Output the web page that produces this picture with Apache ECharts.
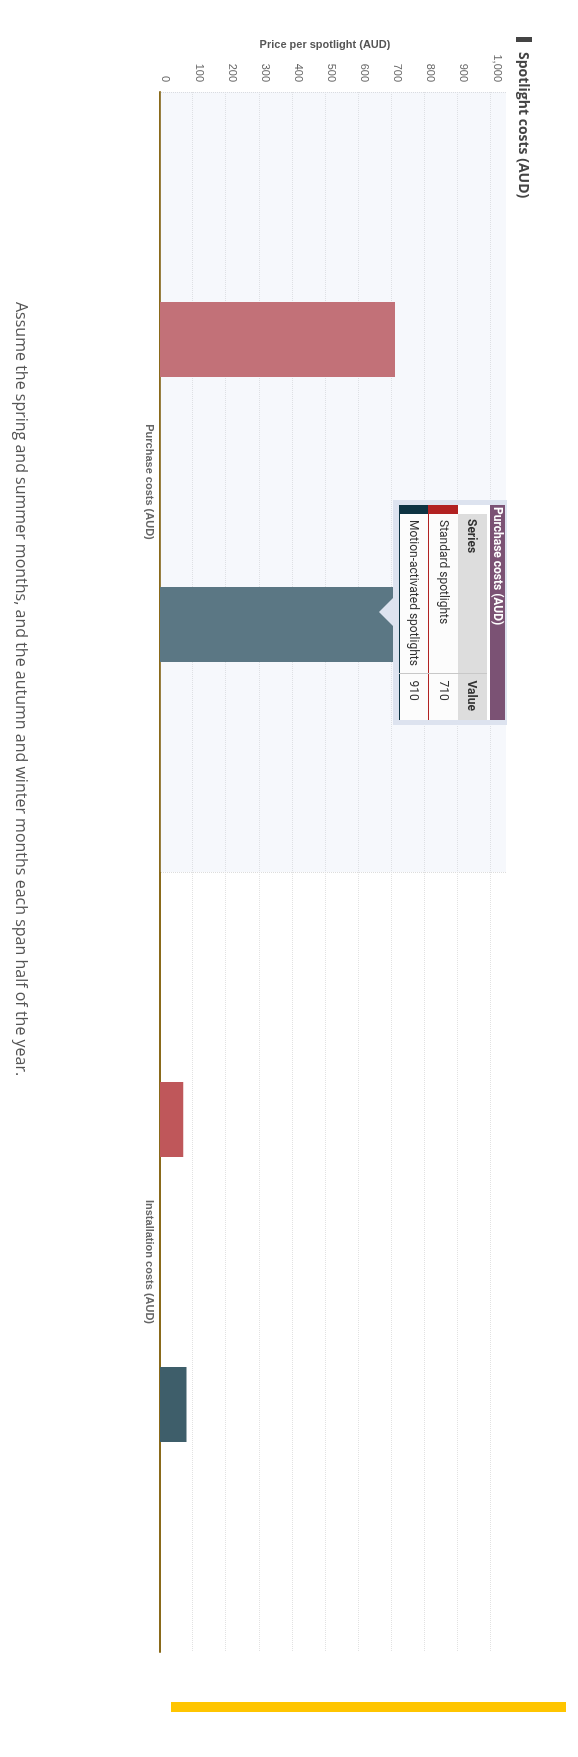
<!DOCTYPE html>
<html>
<head>
<meta charset="utf-8">
<script src="https://cdn.jsdelivr.net/npm/echarts@6/dist/echarts.min.js"></script>
<style>
html, body { margin: 0; padding: 0; width: 578px; height: 1757px; overflow: hidden; background: #ffffff; }
#chart { position: absolute; left: 0; top: 0; width: 1757px; height: 578px; transform-origin: 0 0; transform: translate(578px, 0) rotate(90deg); }
</style>
</head>
<body>
<div id="chart"></div>
<script>
// ---- data ----
const categories = ['Purchase costs (AUD)', 'Installation costs (AUD)'];
const seriesNames = ['Standard spotlights', 'Motion-activated spotlights'];
const standardValues = [710, 70];
const motionValues = [910, 80];
const valueAxisMin = 0;
const valueAxisInterval = 100;
const titleText = 'Spotlight costs (AUD)';
const valueAxisName = 'Price per spotlight (AUD)';
const noteText = 'Assume the spring and summer months, and the autumn and winter months each span half of the year.';

// ---- styles ----
const barColors = ['#bf575a', '#3e5e6a'];
const tipColors = ['#b22222', '#0d3342'];

const chart = echarts.init(document.getElementById('chart'), null, { renderer: 'canvas' });

function tipFormatter(params) {
  const list = Array.isArray(params) ? params : [params];
  const sepCol = 'border-left:1px solid #c8c8c8;';
  let rows = '';
  list.forEach(function (p) {
    const c = tipColors[p.seriesIndex];
    rows += '<tr style="height:29px;border-bottom:1px solid ' + c + ';">' +
      '<td style="background:' + c + ';padding:0;"></td>' +
      '<td style="padding:0 0 0 6px;white-space:nowrap;">' + p.seriesName + '</td>' +
      '<td style="' + sepCol + 'padding:0 0 0 7px;">' + p.value + '</td></tr>';
  });
  return '<div style="width:215px;background:#fff;font-family:Roboto,sans-serif;color:#333;line-height:normal;">' +
    '<div style="height:15px;line-height:15px;background:#7b5274;color:#fff;font-weight:bold;font-size:12px;padding-left:2px;white-space:nowrap;">' + list[0].name + '</div>' +
    '<div style="height:3px;background:#fff;"></div>' +
    '<table style="border-collapse:collapse;width:215px;font-size:12px;table-layout:fixed;background:#fcfcfc;">' +
    '<colgroup><col style="width:9px"><col style="width:159px"><col style="width:47px"></colgroup>' +
    '<tr style="height:29px;"><td style="background:#fff;padding:0;"></td>' +
    '<td style="background:#dddddd;font-weight:bold;font-size:12px;padding:0 0 0 5px;">Series</td>' +
    '<td style="background:#dddddd;' + sepCol + 'font-weight:bold;font-size:12px;padding:0 0 0 7px;">Value</td></tr>' +
    rows + '</table></div>' +
    '<div style="position:absolute;left:98px;bottom:-14px;width:0;height:0;border-left:14px solid transparent;border-right:14px solid transparent;border-top:14px solid #dde3ef;"></div>';
}

const option = {
  animation: false,
  grid: { left: 92, right: 105, top: 72, bottom: 160, containLabel: false },
  graphic: [
    { type: 'rect', left: 37, top: 46, shape: { width: 5, height: 16 }, style: { fill: '#444444' } },
    { type: 'text', x: 52, y: 55, style: { text: titleText, fontFamily: 'Open Sans', fontWeight: 'bold', fontSize: 14, fill: '#444444', verticalAlign: 'middle', align: 'left' } },
    { type: 'text', x: 302, y: 557, style: { text: noteText, fontFamily: 'Open Sans', fontSize: 16, fill: '#555555', verticalAlign: 'middle', align: 'left' } },
    { type: 'rect', left: 1702, top: 12, shape: { width: 10, height: 395 }, style: { fill: '#ffc500' } }
  ],
  xAxis: {
    type: 'category',
    data: categories,
    axisLine: { lineStyle: { color: '#8a6a1a', width: 2 } },
    axisTick: { show: false },
    axisLabel: { fontFamily: 'Liberation Sans', fontWeight: 'bold', fontSize: 11, color: '#666666', margin: 5 },
    splitLine: { show: true, showMaxLine: false, lineStyle: { type: 'dotted', color: '#dddddd', width: 1 } }
  },
  yAxis: {
    type: 'value',
    min: valueAxisMin,
    max: 1045,
    interval: valueAxisInterval,
    name: valueAxisName,
    nameLocation: 'middle',
    nameGap: 42,
    nameMoveOverlap: false,
    nameTextStyle: { fontFamily: 'Liberation Sans', fontWeight: 'bold', fontSize: 11, color: '#555555', padding: [0, 16, 0, 0] },
    axisLine: { show: false },
    axisTick: { show: false },
    axisLabel: { showMaxLabel: false, margin: 10, verticalAlign: 'bottom', lineHeight: 11, fontFamily: 'Liberation Sans', fontSize: 11, color: '#666666' },
    splitLine: { show: true, showMaxLine: false, lineStyle: { type: 'dotted', color: '#e2e2e2', width: 1 } }
  },
  tooltip: {
    trigger: 'axis',
    triggerOn: 'none',
    alwaysShowContent: true,
    axisPointer: { type: 'shadow', shadowStyle: { color: 'rgba(210,219,238,0.2)' } },
    position: [500, 71],
    backgroundColor: '#dde3ef',
    borderWidth: 0,
    padding: [2, 5, 6, 5],
    transitionDuration: 0,
    extraCssText: 'box-shadow:none;border-radius:0;',
    formatter: tipFormatter
  },
  series: [
    { name: seriesNames[0], type: 'bar', data: standardValues, barWidth: 75, barGap: '280%', itemStyle: { color: barColors[0] }, emphasis: { disabled: true } },
    { name: seriesNames[1], type: 'bar', data: motionValues, barWidth: 75, barGap: '280%', itemStyle: { color: barColors[1] }, emphasis: { disabled: true } }
  ]
};

chart.setOption(option);
chart.dispatchAction({ type: 'showTip', seriesIndex: 1, dataIndex: 0 });
</script>
</body>
</html>
